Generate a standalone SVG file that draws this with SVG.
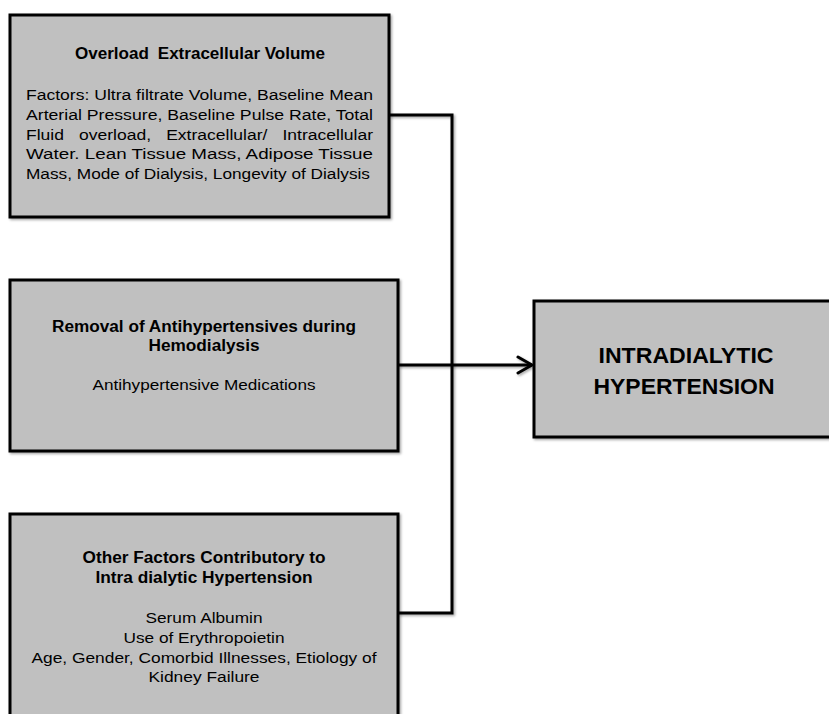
<svg xmlns="http://www.w3.org/2000/svg" width="829" height="714" viewBox="0 0 829 714">
<defs>
<filter id="sh" filterUnits="userSpaceOnUse" x="0" y="0" width="860" height="760">
<feDropShadow dx="1.5" dy="1.5" stdDeviation="1.2" flood-color="#000" flood-opacity="0.35"/>
</filter>
<marker id="arr" markerWidth="18" markerHeight="20" refX="16" refY="10" orient="auto" markerUnits="userSpaceOnUse">
<path d="M2,2 L16,10 L2,18" fill="none" stroke="#000" stroke-width="3" stroke-linecap="round" stroke-linejoin="round"/>
</marker>
</defs>
<style>
.box{fill:#C0C0C0;stroke:#000;stroke-width:3;filter:url(#sh)}
text{font-family:"Liberation Sans",Arial,sans-serif;fill:#000}
.t{font-weight:bold;font-size:16px;text-anchor:middle}
.b{font-size:15.5px}
.c{font-size:15.5px;text-anchor:middle}
.big{font-weight:bold;font-size:22px;text-anchor:middle}
.conn{fill:none;stroke:#000;stroke-width:3;filter:url(#sh)}
</style>
<g id="connectors">
<path class="conn" d="M389,115 H452 V613 H398"/>
<path class="conn" d="M398,365 H532" marker-end="url(#arr)"/>
</g>
<g id="node-overload">
<rect class="box" x="10" y="15" width="379" height="202"/>
<text class="t" x="200" y="59" textLength="250" lengthAdjust="spacingAndGlyphs">Overload <tspan dx="4">Extracellular Volume</tspan></text>
<text class="b" x="26" y="100" textLength="347" lengthAdjust="spacingAndGlyphs">Factors: Ultra filtrate Volume, Baseline Mean</text>
<text class="b" x="26" y="120" textLength="347" lengthAdjust="spacingAndGlyphs">Arterial Pressure, Baseline Pulse Rate, Total</text>
<text class="b" x="26" y="139.5" textLength="347" lengthAdjust="spacingAndGlyphs" style="word-spacing:9px">Fluid overload, Extracellular/ Intracellular</text>
<text class="b" x="26" y="159" textLength="347" lengthAdjust="spacingAndGlyphs">Water. Lean Tissue Mass, Adipose Tissue</text>
<text class="b" x="26" y="178.5" textLength="344" lengthAdjust="spacingAndGlyphs">Mass, Mode of Dialysis, Longevity of Dialysis</text>
</g>
<g id="node-removal">
<rect class="box" x="10" y="280" width="388" height="171"/>
<text class="t" x="204" y="332" textLength="304" lengthAdjust="spacingAndGlyphs">Removal of Antihypertensives during</text>
<text class="t" x="204" y="351" textLength="111" lengthAdjust="spacingAndGlyphs">Hemodialysis</text>
<text class="c" x="204" y="390" textLength="223" lengthAdjust="spacingAndGlyphs">Antihypertensive Medications</text>
</g>
<g id="node-other">
<rect class="box" x="10" y="514" width="388" height="220"/>
<text class="t" x="204" y="563" textLength="243" lengthAdjust="spacingAndGlyphs">Other Factors Contributory to</text>
<text class="t" x="204" y="583" textLength="217" lengthAdjust="spacingAndGlyphs">Intra dialytic Hypertension</text>
<text class="c" x="204" y="623" textLength="117" lengthAdjust="spacingAndGlyphs">Serum Albumin</text>
<text class="c" x="204" y="643" textLength="161" lengthAdjust="spacingAndGlyphs">Use of Erythropoietin</text>
<text class="c" x="204" y="663" textLength="345" lengthAdjust="spacingAndGlyphs">Age, Gender, Comorbid Illnesses, Etiology of</text>
<text class="c" x="204" y="682" textLength="111" lengthAdjust="spacingAndGlyphs">Kidney Failure</text>
</g>
<g id="node-intradialytic">
<rect class="box" x="534" y="301" width="310" height="136"/>
<text class="big" x="686" y="363" textLength="175" lengthAdjust="spacingAndGlyphs">INTRADIALYTIC</text>
<text class="big" x="684" y="394" textLength="181" lengthAdjust="spacingAndGlyphs">HYPERTENSION</text>
</g>
</svg>
